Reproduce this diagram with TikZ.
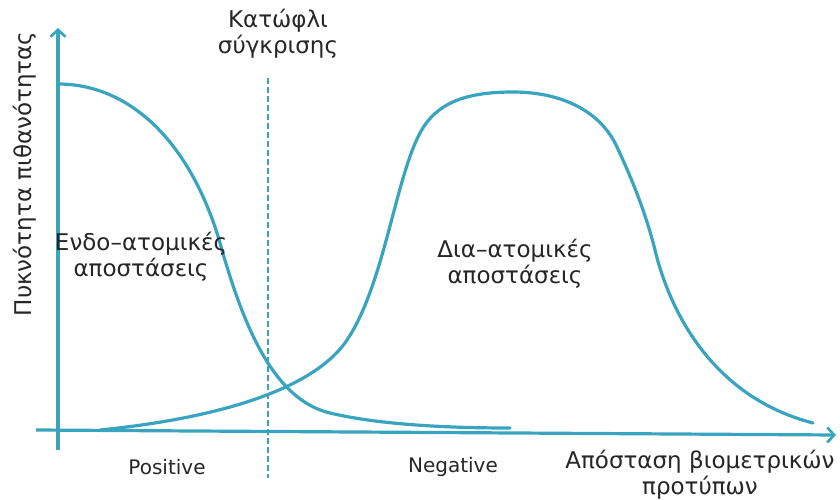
\documentclass[tikz,border=0pt]{standalone}
\usepackage{fontspec}
\setmainfont{DejaVu Sans}
\usetikzlibrary{arrows.meta}
\begin{document}
\begin{tikzpicture}[x=1pt,y=-1pt,
  every node/.style={font=\fontsize{23}{26}\selectfont, text=black!85, inner sep=0pt, align=center},
  latin/.style={font=\fontsize{20}{24}\selectfont},
  curve/.style={draw=teal0, line width=3.2pt, line cap=round, line join=round},
  axis/.style={draw=teal0, line width=3.2pt, -{Straight Barb[length=7pt,width=15pt,line width=2.6pt]}},
  threshold/.style={draw=teal0, line width=2.4pt, dash pattern=on 6pt off 3pt}]
\definecolor{teal0}{HTML}{38A4BF}
\useasboundingbox (0,0) rectangle (840,500);
% axes
\coordinate (ybot) at (58,450);
\coordinate (ytop) at (58,28);
\coordinate (xl) at (36,430);
\coordinate (xr) at (836,435);
\draw[axis] (ybot) -- (ytop);
\draw[axis] (xl) -- (xr);
% comparison threshold
\coordinate (tt) at (268,78);
\coordinate (tb) at (268,478);
\draw[threshold] (tt) -- (tb);
% intra-individual distances
\coordinate (a0) at (58,84);
\coordinate (a1) at (222,250);
\coordinate (a2) at (330,413);
\coordinate (a3) at (510,428);
\draw[curve] (a0) .. controls (135,84) and (195,150) .. (a1)
  .. controls (245,330) and (275,400) .. (a2)
  .. controls (380,425) and (450,428) .. (a3);
% inter-individual distances
\coordinate (b0) at (100,430);
\coordinate (b1) at (347,340);
\coordinate (b2) at (420,133);
\coordinate (b3) at (513,92);
\coordinate (b4) at (617,147);
\coordinate (b5) at (655,250);
\coordinate (b6) at (813,423);
\draw[curve] (b0) .. controls (200,420) and (310,395) .. (b1)
  .. controls (384,285) and (395,180) .. (b2)
  .. controls (436,103) and (465,92) .. (b3)
  .. controls (560,92) and (600,110) .. (b4)
  .. controls (630,175) and (645,210) .. (b5)
  .. controls (667,300) and (705,395) .. (b6);
% labels
\node (thr) at (278,34) {Κατώφλι\\σύγκρισης};
\node (intra) at (141,257) {Ενδο–ατομικές\\αποστάσεις};
\node (inter) at (515,264) {Δια–ατομικές\\αποστάσεις};
\node[latin] (pos) at (167,467) {Positive};
\node[latin] (neg) at (453,467) {Negative};
\node (xlab) at (700,475) {Απόσταση βιομετρικών\\προτύπων};
\node[rotate=90] (ylab) at (25,174) {Πυκνότητα πιθανότητας};
\end{tikzpicture}
\end{document}
